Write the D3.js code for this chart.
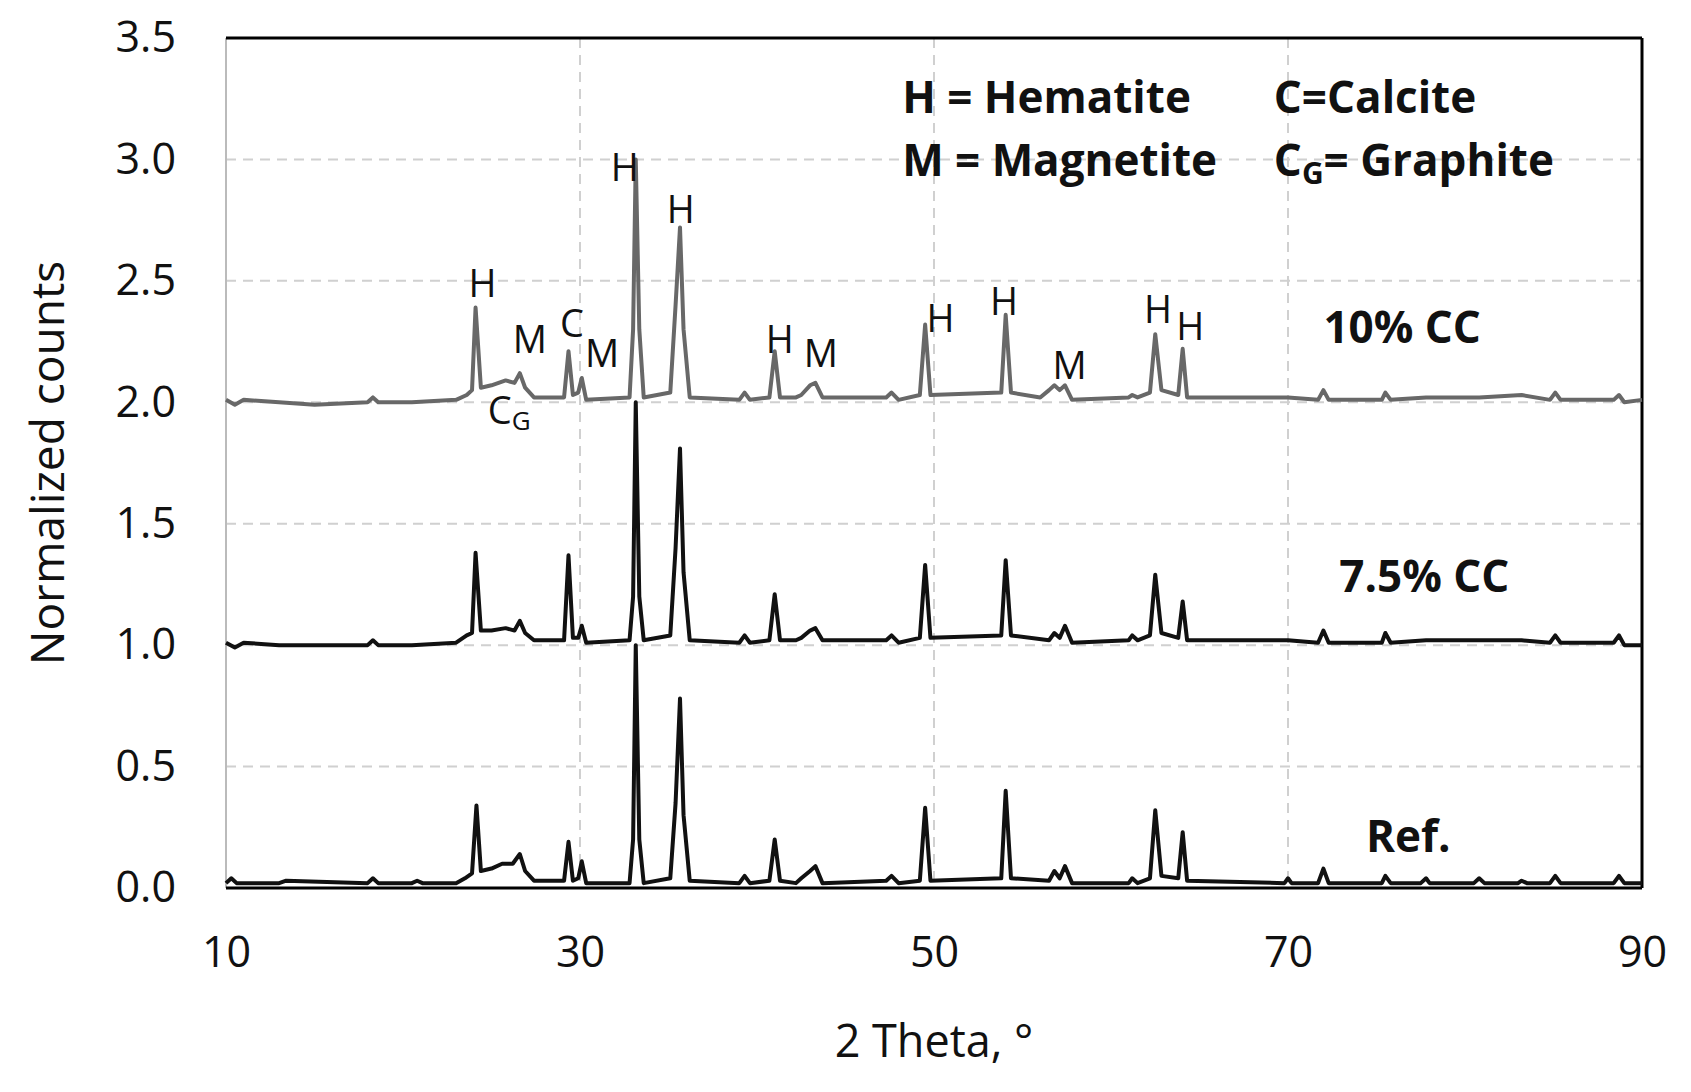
<!DOCTYPE html>
<html><head><meta charset="utf-8">
<script src="https://cdn.jsdelivr.net/npm/d3@7"></script>
<style>body{margin:0;background:#fff}</style></head>
<body><svg id="c" width="1691" height="1092"></svg>
<script>
const xTicks=[10,30,50,70,90];
const yTicks=[0,0.5,1,1.5,2,2.5,3,3.5];
// [2theta, normalized counts]
const refSeries=[[10,0.02],[10.3,0.04],[10.6,0.02],[13,0.02],[13.4,0.03],[18,0.02],[18.3,0.04],[18.6,0.02],[20.5,0.02],[20.8,0.03],[21.1,0.02],[23,0.02],[23.5,0.04],[23.9,0.06],[24.15,0.34],[24.4,0.07],[25,0.08],[25.6,0.1],[26.2,0.1],[26.6,0.14],[26.9,0.07],[27.4,0.03],[29.1,0.03],[29.35,0.19],[29.6,0.03],[29.9,0.04],[30.1,0.11],[30.35,0.02],[32.8,0.02],[33.0,0.2],[33.15,1.0],[33.35,0.2],[33.6,0.02],[35.1,0.04],[35.4,0.35],[35.65,0.78],[35.85,0.3],[36.2,0.03],[39,0.02],[39.3,0.05],[39.6,0.02],[40.7,0.03],[41.0,0.2],[41.3,0.03],[42.2,0.02],[42.5,0.04],[43.0,0.07],[43.3,0.09],[43.7,0.02],[47.3,0.03],[47.6,0.05],[48,0.02],[49.2,0.03],[49.5,0.33],[49.8,0.03],[53.8,0.04],[54.05,0.4],[54.35,0.04],[56.5,0.03],[56.8,0.07],[57.1,0.04],[57.4,0.09],[57.8,0.02],[61,0.02],[61.2,0.04],[61.5,0.02],[62.2,0.04],[62.5,0.32],[62.85,0.05],[63.8,0.04],[64.05,0.23],[64.3,0.03],[69.8,0.02],[70,0.04],[70.2,0.02],[71.7,0.02],[72,0.08],[72.3,0.02],[75.3,0.02],[75.5,0.05],[75.8,0.02],[77.5,0.02],[77.8,0.04],[78,0.02],[80.5,0.02],[80.8,0.04],[81.1,0.02],[83,0.02],[83.2,0.03],[83.5,0.02],[84.8,0.02],[85.1,0.05],[85.4,0.02],[88.4,0.02],[88.7,0.05],[89,0.02],[90,0.02]];
const cc75Series=[[10,1.01],[10.5,0.99],[11,1.01],[13,1.0],[18,1.0],[18.3,1.02],[18.6,1.0],[20.5,1.0],[23,1.01],[23.6,1.04],[23.9,1.05],[24.1,1.38],[24.4,1.06],[25,1.06],[25.8,1.07],[26.3,1.06],[26.6,1.1],[26.9,1.05],[27.4,1.02],[29.1,1.02],[29.35,1.37],[29.6,1.03],[29.9,1.03],[30.1,1.08],[30.35,1.01],[32.8,1.02],[33.0,1.2],[33.15,2.0],[33.35,1.2],[33.6,1.02],[35.1,1.04],[35.4,1.4],[35.65,1.81],[35.85,1.3],[36.2,1.02],[39,1.01],[39.3,1.04],[39.6,1.01],[40.7,1.02],[41.0,1.21],[41.3,1.02],[42.2,1.02],[42.5,1.03],[43.0,1.06],[43.3,1.07],[43.7,1.02],[47.3,1.02],[47.6,1.04],[48,1.01],[49.2,1.03],[49.5,1.33],[49.8,1.03],[53.8,1.04],[54.05,1.35],[54.35,1.04],[56.5,1.02],[56.8,1.05],[57.1,1.03],[57.4,1.08],[57.8,1.01],[61,1.02],[61.2,1.04],[61.5,1.02],[62.2,1.04],[62.5,1.29],[62.85,1.05],[63.8,1.03],[64.05,1.18],[64.3,1.02],[70,1.02],[71.7,1.01],[72,1.06],[72.3,1.01],[75.3,1.01],[75.5,1.05],[75.8,1.01],[77.8,1.02],[80.8,1.02],[83.2,1.02],[84.8,1.01],[85.1,1.04],[85.4,1.01],[88.4,1.01],[88.7,1.04],[89,1.0],[90,1.0]];
const cc10Series=[[10,2.01],[10.5,1.99],[11,2.01],[13,2.0],[15,1.99],[18,2.0],[18.3,2.02],[18.6,2.0],[20.5,2.0],[23,2.01],[23.6,2.03],[23.9,2.05],[24.1,2.39],[24.4,2.06],[25,2.07],[25.8,2.09],[26.3,2.08],[26.6,2.12],[26.9,2.06],[27.4,2.02],[29.1,2.02],[29.35,2.21],[29.6,2.03],[29.9,2.04],[30.1,2.1],[30.35,2.01],[32.8,2.02],[33.0,2.3],[33.15,3.0],[33.35,2.3],[33.6,2.02],[35.1,2.04],[35.4,2.4],[35.65,2.72],[35.85,2.3],[36.2,2.02],[39,2.01],[39.3,2.04],[39.6,2.01],[40.7,2.02],[41.0,2.21],[41.3,2.02],[42.2,2.02],[42.5,2.03],[43.0,2.07],[43.3,2.08],[43.7,2.02],[47.3,2.02],[47.6,2.04],[48,2.01],[49.2,2.03],[49.5,2.32],[49.8,2.03],[53.8,2.04],[54.05,2.36],[54.35,2.04],[56.0,2.02],[56.5,2.05],[56.8,2.07],[57.1,2.05],[57.4,2.07],[57.8,2.01],[61,2.02],[61.2,2.03],[61.5,2.02],[62.2,2.04],[62.5,2.28],[62.85,2.05],[63.8,2.03],[64.05,2.22],[64.3,2.02],[70,2.02],[71.7,2.01],[72,2.05],[72.3,2.01],[75.3,2.01],[75.5,2.04],[75.8,2.01],[77.8,2.02],[80.8,2.02],[83.2,2.03],[84.8,2.01],[85.1,2.04],[85.4,2.01],[88.4,2.01],[88.7,2.03],[89,2.0],[90,2.01]];
// peak labels: [text, x, y]
const peakLabels=[["H",24.49,2.435],["M",27.17,2.205],["C",29.54,2.267],["M",31.25,2.147],["H",32.53,2.91],["H",35.69,2.737],["H",41.29,2.205],["M",43.6,2.147],["H",50.37,2.289],["H",53.96,2.36],["M",57.66,2.094],["H",62.66,2.325],["H",64.48,2.258]];
const seriesLabels=[["10% CC",72,2.245],["7.5% CC",72.9,1.22],["Ref.",74.4,0.15]];

const svg=d3.select("#c");
const L=226,R=1642,T=38,B=888;
const x=d3.scaleLinear().domain([10,90]).range([L,R]);
const y=d3.scaleLinear().domain([0,3.5]).range([B,T]);
const F="'Open Sans', sans-serif";
svg.append("g").selectAll("line").data(yTicks.filter(v=>v>0&&v<3.5)).join("line")
 .attr("x1",L).attr("x2",R).attr("y1",d=>y(d)).attr("y2",d=>y(d))
 .attr("stroke","#d0d0d0").attr("stroke-width",2).attr("stroke-dasharray","10,7");
svg.append("g").selectAll("line").data(xTicks.filter(v=>v>10&&v<90)).join("line")
 .attr("y1",T).attr("y2",B).attr("x1",d=>x(d)).attr("x2",d=>x(d))
 .attr("stroke","#d0d0d0").attr("stroke-width",2).attr("stroke-dasharray","10,7");
svg.append("line").attr("x1",L).attr("x2",L).attr("y1",T).attr("y2",B).attr("stroke","#bbb").attr("stroke-width",2);
svg.append("line").attr("x1",L).attr("x2",R).attr("y1",T).attr("y2",T).attr("stroke","#000").attr("stroke-width",3);
svg.append("line").attr("x1",R).attr("x2",R).attr("y1",T).attr("y2",B).attr("stroke","#000").attr("stroke-width",3);
const xa=svg.append("g").attr("transform",`translate(0,${B})`).call(d3.axisBottom(x).tickValues(xTicks).tickSize(0).tickPadding(48).tickFormat(d3.format("d")));
const ya=svg.append("g").attr("transform",`translate(${L},0)`).call(d3.axisLeft(y).tickValues(yTicks).tickSize(0).tickPadding(50).tickFormat(d3.format(".1f")));
[xa,ya].forEach(a=>{a.select(".domain").remove();a.selectAll("text").attr("font-family",F).attr("font-size",43).attr("fill","#111");});
svg.append("line").attr("x1",L).attr("x2",R).attr("y1",B).attr("y2",B).attr("stroke","#000").attr("stroke-width",3);
svg.append("text").attr("x",(L+R)/2).attr("y",1057).attr("text-anchor","middle").attr("font-family",F).attr("font-size",45).attr("fill","#111").text("2 Theta, °");
svg.append("text").attr("transform",`translate(64,${(T+B)/2}) rotate(-90)`).attr("text-anchor","middle").attr("font-family",F).attr("font-size",46).attr("fill","#111").text("Normalized counts");
const line=d3.line().x(d=>x(d[0])).y(d=>y(d[1]));
[[refSeries,"#111"],[cc75Series,"#111"],[cc10Series,"#686868"]].forEach(([s,c])=>{
 svg.append("path").datum(s).attr("d",line).attr("fill","none").attr("stroke",c).attr("stroke-width",4).attr("stroke-linejoin","round");
});
svg.append("g").selectAll("text").data(peakLabels).join("text")
 .attr("x",d=>x(d[1])).attr("y",d=>y(d[2])).attr("text-anchor","middle")
 .attr("font-family",F).attr("font-size",38).attr("fill","#111").text(d=>d[0]);
const cg=svg.append("text").attr("x",x(26.0)).attr("y",y(1.912)).attr("text-anchor","middle").attr("font-family",F).attr("font-size",38).attr("fill","#111");
cg.append("tspan").text("C");cg.append("tspan").attr("font-size",26).attr("dy",6).text("G");
svg.append("g").selectAll("text").data(seriesLabels).join("text")
 .attr("x",d=>x(d[1])).attr("y",d=>y(d[2])).attr("font-family",F).attr("font-weight","bold").attr("font-size",44).attr("fill","#111").text(d=>d[0]);
const lg=(xx,yy)=>svg.append("text").attr("x",x(xx)).attr("y",y(yy)).attr("font-family",F).attr("font-weight","bold").attr("font-size",44).attr("fill","#111");
lg(48.2,3.19).text("H = Hematite");
lg(48.2,2.93).text("M = Magnetite");
lg(69.2,3.19).text("C=Calcite");
const g2=lg(69.2,2.93);
g2.append("tspan").text("C");g2.append("tspan").attr("font-size",30).attr("dy",8).text("G");g2.append("tspan").attr("dy",-8).text("= Graphite");
</script></body></html>
